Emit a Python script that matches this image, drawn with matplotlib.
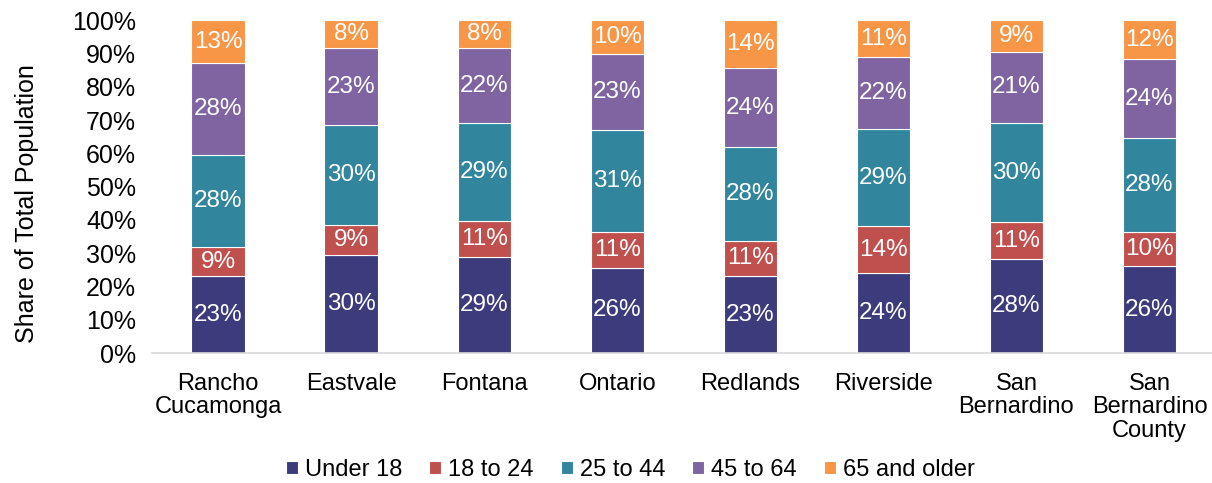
import matplotlib
matplotlib.use("Agg")
import matplotlib.pyplot as plt
import numpy as np

plt.rcParams["font.family"] = ["Liberation Sans", "DejaVu Sans"]

cities = ["Rancho\nCucamonga", "Eastvale", "Fontana", "Ontario", "Redlands",
          "Riverside", "San\nBernardino", "San\nBernardino\nCounty"]
groups = ["Under 18", "18 to 24", "25 to 44", "45 to 64", "65 and older"]
colors = ["#3C3C7D", "#C0504D", "#31859C", "#8064A2", "#F79646"]

under18 = [23.1, 29.6, 28.8, 25.6, 23.1, 24.0, 28.2, 26.1]
age18_24 = [8.7, 9.0, 11.0, 10.8, 10.7, 14.1, 11.1, 10.2]
age25_44 = [27.7, 29.8, 29.4, 30.7, 28.1, 29.2, 29.9, 28.3]
age45_64 = [27.6, 23.2, 22.4, 22.8, 23.7, 21.6, 21.4, 23.7]
age65 = [12.9, 8.4, 8.4, 10.1, 14.4, 11.1, 9.4, 11.7]

series = [under18, age18_24, age25_44, age45_64, age65]

fig = plt.figure(figsize=(12.12, 4.83), dpi=100)
ax = fig.add_axes([0.125, 0.269, 0.875, 0.689])

x = np.arange(len(cities))
bottom = np.zeros(len(cities))
for name, vals, col in zip(groups, series, colors):
    vals = np.array(vals)
    ax.bar(x, vals, 0.4, bottom=bottom, color=col, label=name,
           edgecolor="white", linewidth=0.8)
    for xi, b, v in zip(x, bottom, vals):
        ax.text(xi, b + v / 2, f"{v:.0f}%", ha="center", va="center",
                color="white", fontsize=17.5)
    bottom += vals

ax.set_xlim(-0.5, 7.47)
ax.set_ylim(0, 100)
ax.set_yticks(range(0, 101, 10))
ax.set_yticklabels([f"{t}%" for t in range(0, 101, 10)], fontsize=18)
ax.set_xticks(x)
ax.set_xticklabels(cities, fontsize=17, linespacing=1.1)
ax.tick_params(length=0)
ax.tick_params(axis="x", pad=14)
ax.tick_params(axis="y", pad=11)
ax.set_ylabel("Share of Total Population", fontsize=18)
ax.yaxis.set_label_coords(-0.106, 0.45)

for s in ["top", "right", "left"]:
    ax.spines[s].set_visible(False)
ax.spines["bottom"].set_color("#D9D9D9")
ax.spines["bottom"].set_linewidth(1.2)

fig.legend(loc="lower center", bbox_to_anchor=(0.52, -0.04), ncol=5,
           frameon=False, fontsize=17, handlelength=0.5, handleheight=0.5,
           handletextpad=0.3, columnspacing=1.15)

fig.savefig("out.png", dpi=100)
